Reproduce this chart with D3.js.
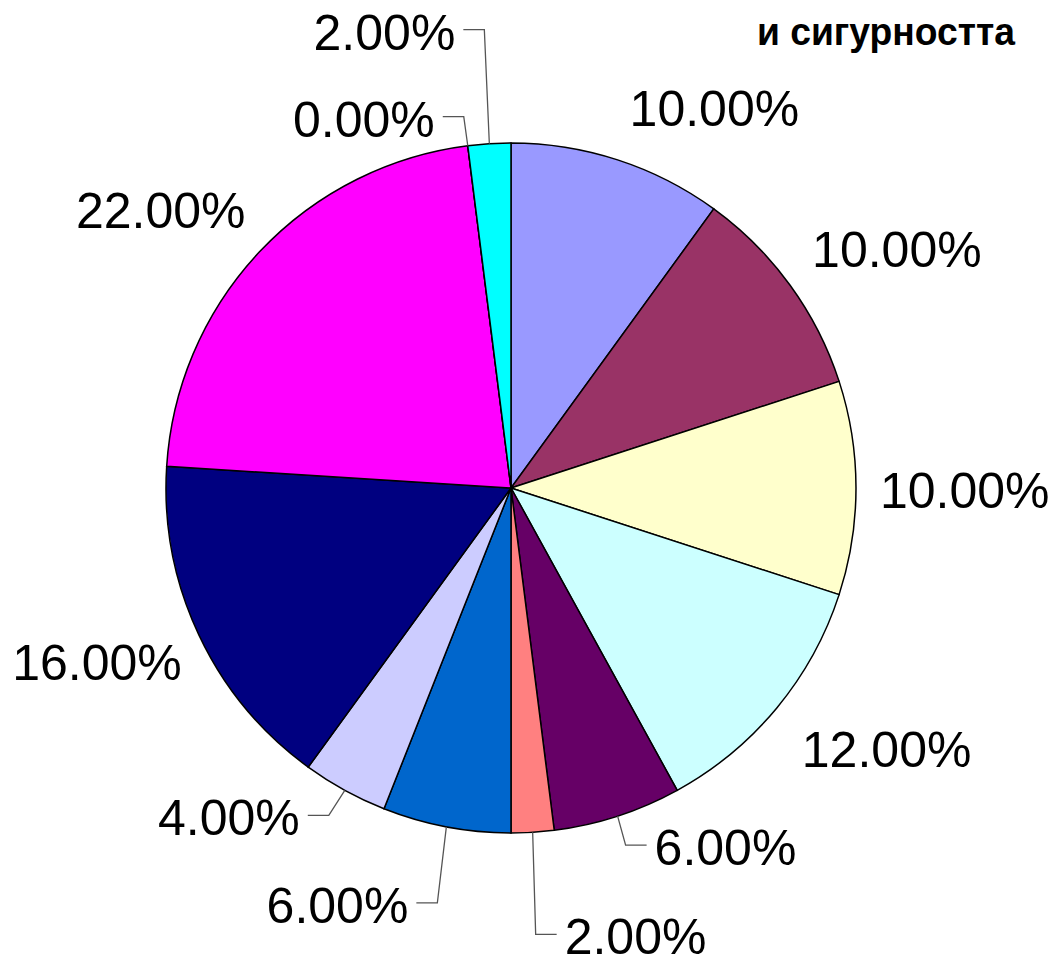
<!DOCTYPE html>
<html>
  <head>
    <meta charset="utf-8">
    <script src="https://cdn.jsdelivr.net/npm/d3@7/dist/d3.min.js"></script>
    <style>
      body { margin: 0; background: #fff; }
      svg { display: block; font-family: "Liberation Sans", Arial, sans-serif; }
      .slice { stroke: #000; stroke-width: 1.5px; }
      .lbl { font-size: 50px; fill: #000; }
      .leader { fill: none; stroke: #555; stroke-width: 1.3px; }
      .title { font-size: 39px; font-weight: bold; fill: #000; }
    </style>
  </head>
  <body>
    <svg id="chart" width="1055" height="956"></svg>
    <script>
      // shares, clockwise from 12 o'clock
      var categories = ["Категория 1", "Категория 2", "Категория 3", "Категория 4", "Категория 5", "Категория 6",
                        "Категория 7", "Категория 8", "Категория 9", "Категория 10", "Категория 11", "Категория 12"];
      var shares = [10, 10, 10, 12, 6, 2, 6, 4, 16, 22, 0, 2];
      var colors = ["#9999FF", "#993366", "#FFFFCC", "#CCFFFF", "#660066", "#FF8080",
                    "#0066CC", "#CCCCFF", "#000080", "#FF00FF", "#FFFF00", "#00FFFF"];
      var hasLeader = [false, false, false, false, true, true, true, true, false, false, true, true];
      // label nudge from the slice's outer edge point (px)
      var labelNudge = [[12, -34], [22, -18], [24, 20], [25, 59], [37, 49], [32, 122],
                        [-38, 96], [-45, 45], [-17, 45], [-14, -24], [-33, -9], [-34, -94]];
      var titleText = "и сигурността";

      var svg = d3.select("#chart");
      var cx = 511, cy = 488, r = 345;

      var pie = d3.pie().sort(null).value(d => d);
      var arcs = pie(shares);
      var arc = d3.arc().innerRadius(0).outerRadius(r);

      var g = svg.append("g").attr("transform", "translate(" + cx + "," + cy + ")");

      g.selectAll("path.slice")
        .data(arcs)
        .enter()
        .append("path")
        .attr("class", "slice")
        .attr("d", arc)
        .style("fill", (d, i) => colors[i]);

      function edgePoint(d) {
        var a = (d.startAngle + d.endAngle) / 2;
        return [r * Math.sin(a), -r * Math.cos(a)];
      }

      var labels = arcs.map(function(d, i) {
        var p = edgePoint(d);
        var right = labelNudge[i][0] > 0;
        return {
          p: p,
          x: p[0] + labelNudge[i][0],
          y: p[1] + labelNudge[i][1],
          right: right,
          text: shares[i].toFixed(2) + "%",
          leader: hasLeader[i]
        };
      });

      g.selectAll("polyline.leader")
        .data(labels.filter(d => d.leader))
        .enter()
        .append("polyline")
        .attr("class", "leader")
        .attr("points", function(d) {
          var s = d.right ? 1 : -1;
          var ly = d.y - 20;
          var x1 = d.x - s * 8, x2 = d.x - s * 29;
          return [[x1, ly], [x2, ly], d.p].map(q => q.join(",")).join(" ");
        });

      g.selectAll("text.lbl")
        .data(labels)
        .enter()
        .append("text")
        .attr("class", "lbl")
        .attr("x", d => d.x)
        .attr("y", d => d.y)
        .attr("text-anchor", d => d.right ? "start" : "end")
        .text(d => d.text);

      svg.append("text")
        .attr("class", "title")
        .attr("x", 757)
        .attr("y", 45)
        .attr("textLength", 258)
        .attr("lengthAdjust", "spacingAndGlyphs")
        .text(titleText);
    </script>
  </body>
</html>
